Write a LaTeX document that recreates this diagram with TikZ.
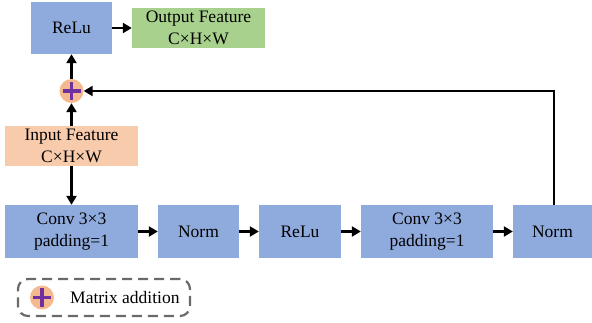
\documentclass[tikz,border=0pt]{standalone}
\usepackage{fontspec}
\setmainfont{Liberation Serif}
\usetikzlibrary{arrows.meta}
\definecolor{boxblue}{HTML}{8FAADC}
\definecolor{boxgreen}{HTML}{A9D18E}
\definecolor{boxorange}{HTML}{F8CBAD}
\definecolor{addorange}{HTML}{F4B98F}
\definecolor{addpurple}{HTML}{7030A0}
\definecolor{legendgray}{HTML}{6A6A6A}
\tikzset{
  blk/.style={rectangle, inner sep=0pt, align=center, draw=none,
    font=\fontsize{17.5}{21.5}\selectfont},
  bluebox/.style={blk, fill=boxblue},
  greenbox/.style={blk, fill=boxgreen},
  orangebox/.style={blk, fill=boxorange},
  addnode/.style={circle, inner sep=0pt, minimum size=24pt, fill=addorange,
    path picture={
      \draw[addpurple, line width=3.8pt]
        ([xshift=-9pt]path picture bounding box.center) -- ([xshift=9pt]path picture bounding box.center)
        ([yshift=-9pt]path picture bounding box.center) -- ([yshift=9pt]path picture bounding box.center);
    }},
  conn/.style={line width=2.4pt, -{Triangle[length=9pt,width=10pt]}},
  legendbox/.style={draw=legendgray, line width=2.2pt, dash pattern=on 10pt off 6pt, rounded corners=10pt},
}
\begin{document}
\begin{tikzpicture}[x=1pt,y=-1pt]
\useasboundingbox (0,0) rectangle (592,323);
% top row
\node[bluebox, minimum width=81pt, minimum height=52pt] (relu1) at (71.5,28) {ReLu};
\node[greenbox, minimum width=133pt, minimum height=40pt] (out) at (198.5,28) {Output Feature\\C×H×W};
\node[addnode] (plus) at (71.5,91) {};
\node[orangebox, minimum width=133pt, minimum height=40pt] (in) at (71.5,146) {Input Feature\\C×H×W};
% bottom row
\node[bluebox, minimum width=133pt, minimum height=53pt] (conv1) at (71.5,231.5) {Conv 3×3\\padding=1};
\node[bluebox, minimum width=81pt, minimum height=53pt] (norm1) at (198.5,231.5) {Norm};
\node[bluebox, minimum width=82pt, minimum height=53pt] (relu2) at (300,231.5) {ReLu};
\node[bluebox, minimum width=132pt, minimum height=53pt] (conv2) at (427,231.5) {Conv 3×3\\padding=1};
\node[bluebox, minimum width=79pt, minimum height=53pt] (norm2) at (552.5,231.5) {Norm};
% connectors
\draw[conn] (relu1) -- (out);
\draw[conn] (plus) -- (relu1);
\draw[conn] (in) -- (plus);
\draw[conn] (in) -- (conv1);
\draw[conn] (conv1) -- (norm1);
\draw[conn] (norm1) -- (relu2);
\draw[conn] (relu2) -- (conv2);
\draw[conn] (conv2) -- (norm2);
\coordinate (fbtop) at (554,91);
\coordinate (fbbot) at (554,205);
\draw[conn] (fbbot) -- (fbtop) -- (plus);
% legend
\node[legendbox, minimum width=172pt, minimum height=37pt, inner sep=0pt] (legend) at (104,297.5) {};
\node[addnode] (legplus) at (42,297.5) {};
\node[blk, anchor=west] (legtext) at (70,298) {Matrix addition};
\end{tikzpicture}
\end{document}
